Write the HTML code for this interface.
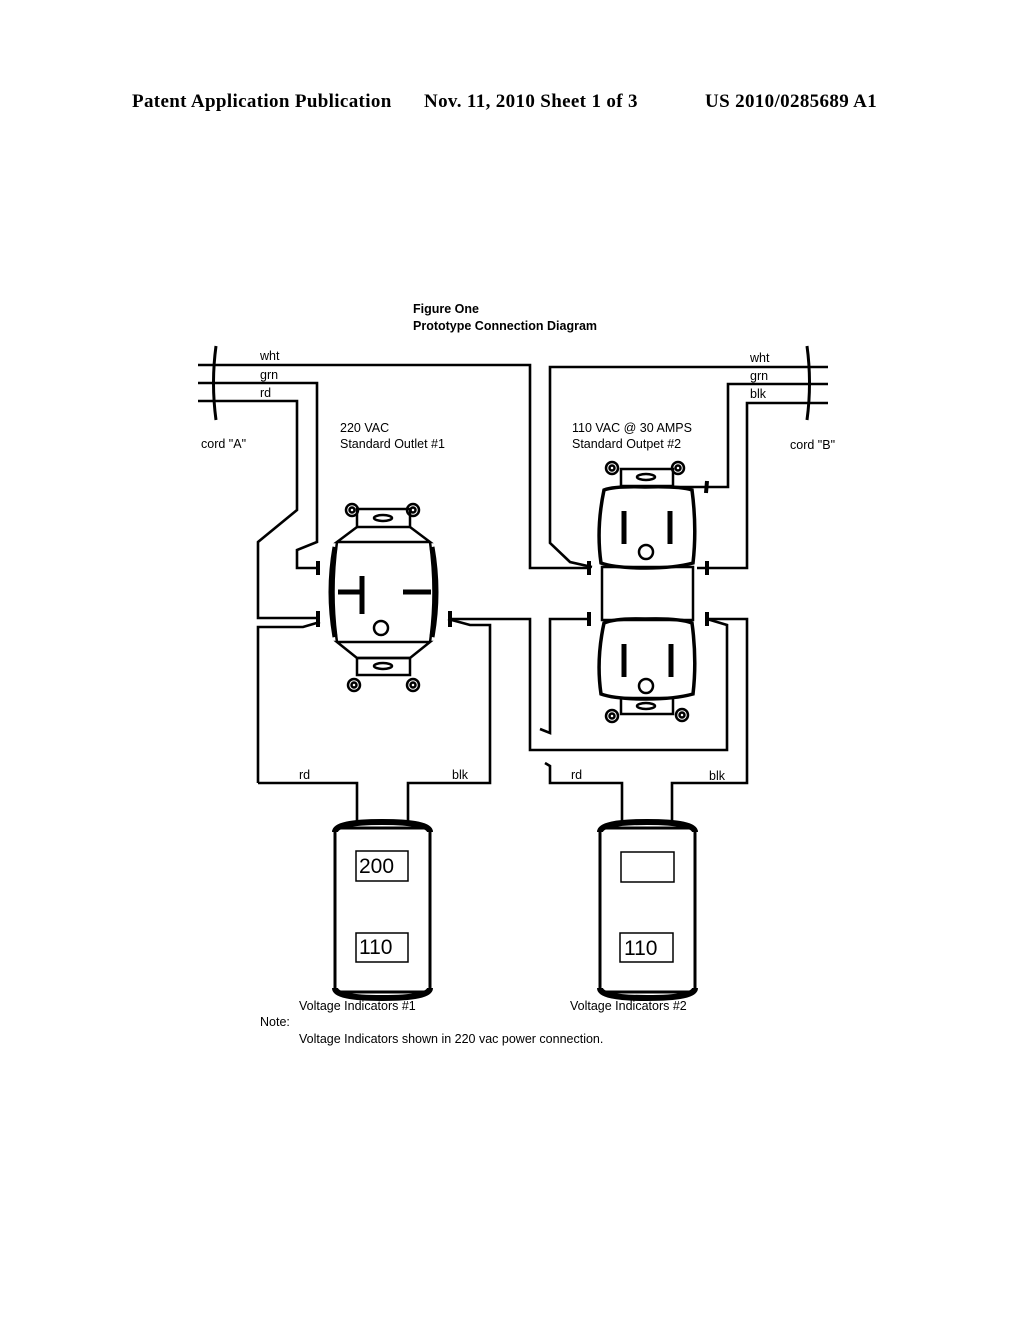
<!DOCTYPE html>
<html><head><meta charset="utf-8"><style>
html,body{margin:0;padding:0;background:#fff;}
svg{display:block;}
.h{font-family:"Liberation Serif",serif;font-weight:bold;font-size:19px;letter-spacing:0.35px;}
.s{font-family:"Liberation Sans",sans-serif;font-size:12.5px;}
.b{font-family:"Liberation Sans",sans-serif;font-size:12.5px;font-weight:bold;}
.d{font-family:"Liberation Sans",sans-serif;font-size:21px;}
</style></head><body>
<svg width="1024" height="1320" viewBox="0 0 1024 1320" xmlns="http://www.w3.org/2000/svg">
<text class="h" x="132" y="107">Patent Application Publication</text>
<text class="h" x="424" y="107">Nov. 11, 2010  Sheet 1 of 3</text>
<text class="h" x="705" y="107">US 2010/0285689 A1</text>
<text class="b" x="413" y="313">Figure One</text>
<text class="b" x="413" y="330">Prototype Connection Diagram</text>

<g fill="none" stroke="#000" stroke-width="2.6" stroke-linejoin="miter">
<path d="M198,365 H530 V568 H590"/>
<path d="M198,383 H317 V542 L297,550 V568 H320"/>
<path d="M198,401 H297 V510 L258,542 V618 H320"/>
<path d="M258,783 V627 H303 L320,622"/>
<path d="M258,783 H357 V824"/>
<path d="M448,619 H530 V750 H727 V625 L707,619"/>
<path d="M448,619 L470,625 H490 V783 H408 V824"/>
<path d="M828,367 H550 V543 L570,562 L592,567"/>
<path d="M828,384 H728 V487 H675"/>
<path d="M828,403 H747 V568 H697"/>
<path d="M590,619 H550 V733 L540,729"/>
<path d="M545,763 L550,766 V783 H622 V824"/>
<path d="M707,619 H747 V783 H672 V824"/>
</g>
<g stroke="#000" stroke-width="3" fill="none">
<path d="M216,346 Q211,383 216,420"/>
<path d="M807,346 Q812,383 807,420"/>
</g>
<g stroke="#000" stroke-width="4">
<line x1="318" y1="561" x2="318" y2="575"/><line x1="318" y1="611" x2="318" y2="627"/>
<line x1="450" y1="611" x2="450" y2="627"/>
<line x1="589" y1="561" x2="589" y2="575"/><line x1="589" y1="612" x2="589" y2="626"/>
<line x1="707" y1="561" x2="707" y2="575"/><line x1="707" y1="612" x2="707" y2="626"/>
<line x1="707" y1="481" x2="706" y2="493"/>
</g>

<g class="s">
<text x="260" y="360">wht</text><text x="260" y="379">grn</text><text x="260" y="397">rd</text>
<text x="750" y="362">wht</text><text x="750" y="380">grn</text><text x="750" y="398">blk</text>
<text x="201" y="448">cord "A"</text><text x="790" y="449">cord "B"</text>
<text x="340" y="432">220 VAC</text><text x="340" y="448">Standard Outlet #1</text>
<text x="572" y="432">110 VAC @ 30 AMPS</text><text x="572" y="448">Standard Outpet #2</text>
<text x="299" y="779">rd</text><text x="452" y="779">blk</text>
<text x="571" y="779">rd</text><text x="709" y="780">blk</text>
<text x="299" y="1010">Voltage Indicators #1</text>
<text x="570" y="1010">Voltage Indicators #2</text>
<text x="260" y="1026">Note:</text>
<text x="299" y="1043">Voltage Indicators shown in 220 vac power connection.</text>
</g>

<g fill="none" stroke="#000" stroke-width="2.5">
<rect x="357" y="509" width="53" height="18"/>
<ellipse cx="383" cy="518" rx="9" ry="3"/>
<circle cx="352" cy="510" r="6"/><circle cx="352" cy="510" r="2.5"/>
<circle cx="413" cy="510" r="6"/><circle cx="413" cy="510" r="2.5"/>
<path d="M357,527 L337,542 H430 L410,527"/>
<path d="M337,542 Q330,592 337,642 M430,542 Q437,592 430,642"/>
<path d="M337,642 L357,658 H410 L430,642 Z"/>
<rect x="357" y="658" width="53" height="17"/>
<ellipse cx="383" cy="666" rx="9" ry="3"/>
<circle cx="354" cy="685" r="6"/><circle cx="354" cy="685" r="2.5"/>
<circle cx="413" cy="685" r="6"/><circle cx="413" cy="685" r="2.5"/>
<circle cx="381" cy="628" r="7"/>
</g>
<g stroke="#000" stroke-width="5" fill="none">
<path d="M335,547 Q327,592 335,637"/><path d="M432,547 Q440,592 432,637"/>
<line x1="338" y1="592" x2="362" y2="592"/><line x1="362" y1="576" x2="362" y2="614"/>
<line x1="403" y1="592" x2="431" y2="592"/>
</g>

<g fill="none" stroke="#000" stroke-width="2.5">
<rect x="621" y="469" width="52" height="17"/>
<ellipse cx="646" cy="477" rx="9" ry="3"/>
<circle cx="612" cy="468" r="6"/><circle cx="612" cy="468" r="2.5"/>
<circle cx="678" cy="468" r="6"/><circle cx="678" cy="468" r="2.5"/>
<rect x="602" y="567" width="91" height="53"/>
<rect x="621" y="698" width="52" height="16"/>
<ellipse cx="646" cy="706" rx="9" ry="3"/>
<circle cx="612" cy="716" r="6"/><circle cx="612" cy="716" r="2.5"/>
<circle cx="682" cy="715" r="6"/><circle cx="682" cy="715" r="2.5"/>
<circle cx="646" cy="552" r="7"/><circle cx="646" cy="686" r="7"/>
</g>
<g fill="none" stroke="#000" stroke-width="3.5">
<path d="M604,490 Q615,486 645,487 Q680,486 692,490 Q697,528 693,563 Q675,568 646,568 Q615,568 601,563 Q596,528 604,490 Z"/>
<path d="M604,623 Q615,618 645,619 Q680,618 692,623 Q697,660 693,694 Q675,699 646,699 Q615,699 601,694 Q596,660 604,623 Z"/>
</g>
<g stroke="#000" stroke-width="5">
<line x1="624" y1="511" x2="624" y2="544"/><line x1="670" y1="511" x2="670" y2="544"/>
<line x1="624" y1="644" x2="624" y2="677"/><line x1="671" y1="644" x2="671" y2="677"/>
</g>

<g fill="none" stroke="#000">
<rect x="335" y="828" width="95" height="164" rx="4" stroke-width="3"/>
<path d="M335,832 Q335,822 382,822 Q430,822 430,832" stroke-width="6"/>
<path d="M335,988 Q335,998 382,998 Q430,998 430,988" stroke-width="6"/>
<rect x="356" y="851" width="52" height="30" stroke-width="1.5"/>
<rect x="356" y="933" width="52" height="29" stroke-width="1.5"/>
<rect x="600" y="828" width="95" height="164" rx="4" stroke-width="3"/>
<path d="M600,832 Q600,822 647,822 Q695,822 695,832" stroke-width="6"/>
<path d="M600,988 Q600,998 647,998 Q695,998 695,988" stroke-width="6"/>
<rect x="621" y="852" width="53" height="30" stroke-width="1.5"/>
<rect x="620" y="933" width="53" height="29" stroke-width="1.5"/>
</g>
<text class="d" x="359" y="873">200</text>
<text class="d" x="359" y="954">110</text>
<text class="d" x="624" y="955">110</text>
</svg>
</body></html>
